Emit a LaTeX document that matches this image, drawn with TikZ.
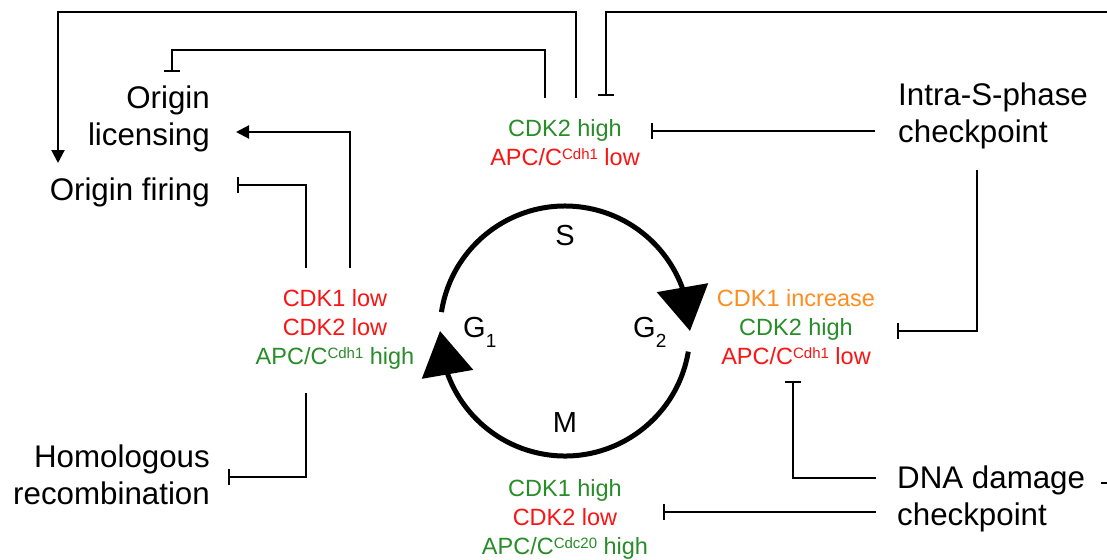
\documentclass[tikz,border=0pt]{standalone}
\usepackage{fontspec}
\setmainfont{Liberation Sans}
\usetikzlibrary{arrows.meta,bending}
\definecolor{cred}{RGB}{250,20,20}
\definecolor{cgreen}{RGB}{40,140,40}
\definecolor{corange}{RGB}{255,140,30}
\newcommand\sups[1]{\raisebox{6pt}{\fontsize{15}{15}\selectfont #1}}
\newcommand\subs[1]{\raisebox{-10pt}{\fontsize{19}{19}\selectfont #1}}
\begin{document}
\begin{tikzpicture}[x=1pt,y=-1pt,
  lab/.style={font=\fontsize{31.3}{37.5}\selectfont, inner sep=0pt},
  st/.style={font=\fontsize{23.5}{29}\selectfont, inner sep=0pt, align=center},
  phase/.style={font=\fontsize{29}{29}\selectfont, inner sep=0pt},
  conn/.style={line width=2.2pt},
  act/.style={conn,-{Triangle[length=13pt,width=13pt]}},
  inh/.style={conn,-{Bar[width=16pt]}},
  cyc/.style={line width=5pt,-{Triangle[length=44pt,width=51pt,flex]}}]
\useasboundingbox (0,0) rectangle (1107,559);

% text nodes
\node[lab,align=right,anchor=east] (lic) at (210,119) {Origin\\licensing};
\node[lab,anchor=base east] (fir) at (210,200) {Origin firing};
\node[lab,align=right,anchor=east] (hom) at (210,475) {Homologous\\recombination};
\node[lab,align=left,anchor=west] (intra) at (898,116) {Intra-S-phase\\checkpoint};
\node[lab,align=left,anchor=west] (dna) at (897,499) {DNA damage\\checkpoint};

\node[st] (sS) at (565,143) {\textcolor{cgreen}{CDK2 high}\\\textcolor{cred}{APC/C\sups{Cdh1} low}};
\node[st] (sG1) at (335,329) {\textcolor{cred}{CDK1 low}\\\textcolor{cred}{CDK2 low}\\\textcolor{cgreen}{APC/C\sups{Cdh1} high}};
\node[st] (sG2) at (796,327) {\textcolor{corange}{CDK1 increase}\\\textcolor{cgreen}{CDK2 high}\\\textcolor{cred}{APC/C\sups{Cdh1} low}};
\node[st] (sM) at (565,519) {\textcolor{cgreen}{CDK1 high}\\\textcolor{cred}{CDK2 low}\\\textcolor{cgreen}{APC/C\sups{Cdc20} high}};

\node[phase,anchor=base] (S) at (565,245) {S};
\node[phase,anchor=base] (M) at (565,432) {M};
\node[phase,anchor=base west] (G1) at (463,337) {G\subs{1}};
\node[phase,anchor=base west] (G2) at (633,337) {G\subs{2}};

% cell cycle
\coordinate (cc) at (565,331);
\draw[cyc] ([shift={(171.3:125pt)}]cc) arc[start angle=171.3, end angle=0, radius=125pt];
\draw[cyc] ([shift={(-9.5:125pt)}]cc) arc[start angle=-9.5, end angle=-180, radius=125pt];

% ports
\coordinate (sSa) at (576,98);
\coordinate (sSb) at (545,98);
\coordinate (sSc) at (606,96);
\coordinate (sSd) at (651,131);
\coordinate (firA) at (58,163);
\coordinate (licB) at (172,72);
\coordinate (licI) at (236,132);
\coordinate (firJ) at (237,185);
\coordinate (homK) at (228,477);
\coordinate (sG1a) at (350,268);
\coordinate (sG1b) at (306,268);
\coordinate (sG1c) at (306,393);
\coordinate (intraD) at (875,131);
\coordinate (intraE) at (977,170);
\coordinate (sG2e) at (897,331);
\coordinate (sG2f) at (793,381);
\coordinate (dnaF) at (876,478);
\coordinate (dnaG) at (876,512);
\coordinate (sMg) at (663,512);
\coordinate (offC) at (1110,12);
\coordinate (dnaH) at (1101,483);
\coordinate (offH) at (1110,483);

% connectors
\draw[act] (sSa) -- (sSa |- 0,12) -| (firA);
\draw[inh] (sSb) -- (sSb |- 0,50) -| (licB);
\draw[inh] (offC) -| (sSc);
\draw[inh] (intraD) -- (sSd);
\draw[inh] (intraE) |- (sG2e);
\draw[inh] (dnaF) -| (sG2f);
\draw[inh] (dnaG) -- (sMg);
\draw[conn] (dnaH) -- (offH);
\draw[act] (sG1a) |- (licI);
\draw[inh] (sG1b) |- (firJ);
\draw[inh] (sG1c) |- (homK);
\end{tikzpicture}
\end{document}
